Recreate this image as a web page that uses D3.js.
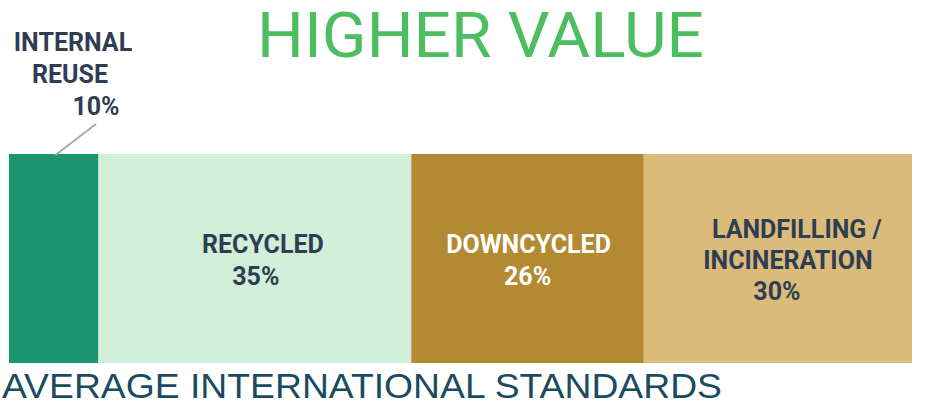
<!DOCTYPE html>
<html>
<head>
<meta charset="utf-8">
<script src="https://cdn.jsdelivr.net/npm/d3@7"></script>
<style>
  html, body { margin: 0; padding: 0; background: #ffffff; }
  svg { display: block; }
</style>
</head>
<body>
<svg id="chart" width="945" height="402"></svg>
<script>
// Share of material by end-of-life route (percent)
const categories = ["INTERNAL REUSE", "RECYCLED", "DOWNCYCLED", "LANDFILLING / INCINERATION"];
const values = [10, 35, 26, 30];
const labelLines = [
  ["INTERNAL", "REUSE", "10%"],
  ["RECYCLED", "35%"],
  ["DOWNCYCLED", "26%"],
  ["LANDFILLING /", "INCINERATION", "30%"]
];
const colors = ["#1b9470", "#d0eed8", "#b38a31", "#dbbb79"];
const labelColors = ["#2f3d54", "#2f3d54", "#ffffff", "#2f3d54"];
const topTitle = "HIGHER VALUE";
const bottomTitle = "AVERAGE INTERNATIONAL STANDARDS";

const svg = d3.select("#chart");

// Cumulative start/end of each segment
let acc = 0;
const segments = values.map((v, i) => {
  const s = { name: categories[i], value: v, start: acc, end: acc + v, i };
  acc += v;
  return s;
});

const x = d3.scaleLinear().domain([0, d3.sum(values)]).range([9, 912]);
const y = d3.scaleBand().domain(["all"]).range([154, 363]).padding(0);

svg.append("g")
  .selectAll("rect")
  .data(segments)
  .join("rect")
  .attr("x", d => x(d.start))
  .attr("y", y("all"))
  .attr("width", d => x(d.end) - x(d.start))
  .attr("height", y.bandwidth())
  .attr("fill", d => colors[d.i]);

// Per-segment text placement: horizontal shifts of each line from the
// segment centre, and the baseline of the first line.
const labelLayout = [
  { baseline: 51, dx: [-1, -4, 22] },
  { baseline: 253, dx: [8, 1] },
  { baseline: 253, dx: [1, 0] },
  { baseline: 238, dx: [19, 10, -1] }
];
const lineGap = [32, 32, 32, 31];

const labels = svg.append("g")
  .attr("font-family", "Roboto, 'Noto Sans', sans-serif")
  .attr("font-weight", 700)
  .attr("font-size", 25)
  .attr("text-anchor", "middle");

segments.forEach(seg => {
  const lay = labelLayout[seg.i];
  const cx = seg.i === 0 ? 74 : (x(seg.start) + x(seg.end)) / 2;
  labels.append("text")
    .attr("fill", labelColors[seg.i])
    .selectAll("tspan")
    .data(labelLines[seg.i])
    .join("tspan")
    .attr("x", (d, k) => cx + lay.dx[k])
    .attr("y", (d, k) => lay.baseline + k * lineGap[seg.i])
    .text(d => d);
});

// Leader from the reuse label down to its slice
const reuse = segments[0];
svg.append("line")
  .attr("x1", 96).attr("y1", 124)
  .attr("x2", x(reuse.start) + (x(reuse.end) - x(reuse.start)) * 0.52).attr("y2", y("all") + 1)
  .attr("stroke", "#a8a8a8")
  .attr("stroke-width", 2);

// Scale captions
svg.append("text")
  .attr("x", 480.5)
  .attr("y", 57)
  .attr("text-anchor", "middle")
  .attr("font-family", "Roboto, 'Noto Sans', sans-serif")
  .attr("font-weight", 400)
  .attr("font-size", 63)
  .attr("fill", "#4cbe60")
  .attr("textLength", 447)
  .attr("lengthAdjust", "spacingAndGlyphs")
  .text(topTitle);

svg.append("text")
  .attr("x", 2)
  .attr("y", 398)
  .attr("font-family", "'Liberation Sans Narrow', 'Arial Narrow', 'Liberation Sans', Arial, sans-serif")
  .attr("font-weight", 400)
  .attr("font-size", 35)
  .attr("fill", "#1a4b5f")
  .attr("textLength", 720)
  .attr("lengthAdjust", "spacingAndGlyphs")
  .text(bottomTitle);
</script>
</body>
</html>
